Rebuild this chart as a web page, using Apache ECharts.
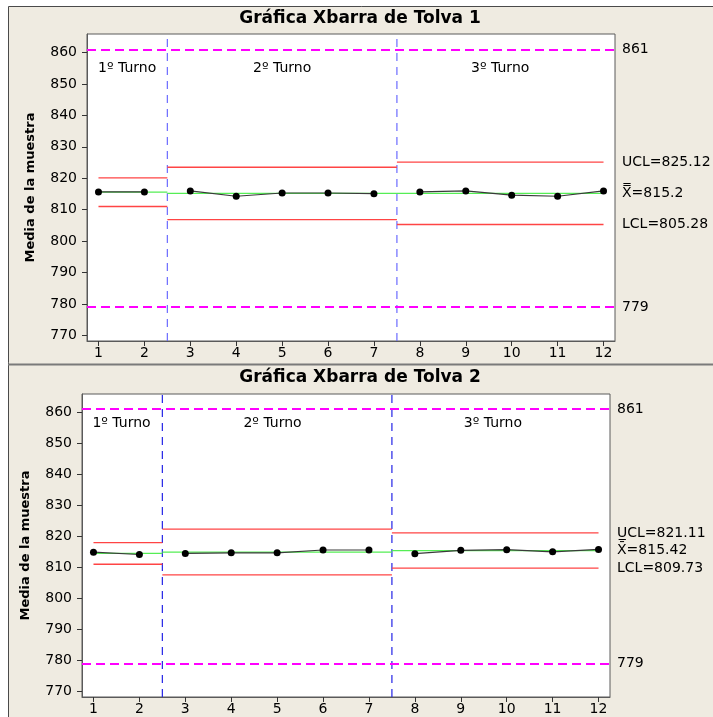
<!DOCTYPE html>
<html><head><meta charset="utf-8">
<script src="https://cdn.jsdelivr.net/npm/echarts@6/dist/echarts.min.js"></script>
<style>html,body{margin:0;padding:0;background:#fff}#c{width:713px;height:717px}</style>
</head><body><div id="c"></div>
<script>
// ---------- data ----------
const samples = [1,2,3,4,5,6,7,8,9,10,11,12];
const xTicks = [1,2,3,4,5,6,7,8,9,10,11,12];
const yTicks = [770,780,790,800,810,820,830,840,850,860];
const stageNames = ['1º Turno','2º Turno','3º Turno'];
const stageOfSample = [0,0,1,1,1,1,1,2,2,2,2,2];
const stageStart = [1, 2.5, 7.5];
const stageEnd = [2.5, 7.5, 12];
const stageDividers = [2.5, 7.5];
const specLimits = [861, 779];
const titles = ['Gráfica Xbarra de Tolva 1', 'Gráfica Xbarra de Tolva 2'];
const yAxisTitle = 'Media de la muestra';

const tolva1Means = [815.64, 815.64, 815.96, 814.26, 815.3, 815.3, 815.1, 815.64, 815.96, 814.6, 814.26, 815.96];
const tolva1UCL = [820.1, 823.5, 825.12];
const tolva1CL  = [815.55, 815.15, 815.2];
const tolva1LCL = [811.0, 806.8, 805.28];
const tolva1LimitLabels = ['UCL=825.12', 'X\u033F=815.2', 'LCL=805.28'];
const tolva1StageLabelX = [1.625, 5.0, 9.75];
const tolva1StageLabelY = 855.1;

const tolva2Means = [814.9, 814.15, 814.5, 814.7, 814.7, 815.6, 815.6, 814.4, 815.5, 815.7, 815.0, 815.8];
const tolva2UCL = [818.0, 822.3, 821.11];
const tolva2CL  = [814.5, 814.9, 815.42];
const tolva2LCL = [811.0, 807.55, 809.73];
const tolva2LimitLabels = ['U\u0332CL=821.11', 'X\u0304=815.42', 'LCL=809.73'];
const tolva2StageLabelX = [1.61, 4.9, 9.7];
const tolva2StageLabelY = 856.4;

// ---------- build ----------
const FONT = '"DejaVu Sans", Verdana, sans-serif';
const Y_MIN = 768.2, Y_MAX = 865.9;
const charts = [
  {means: tolva1Means, ucl: tolva1UCL, cl: tolva1CL, lcl: tolva1LCL, labels: tolva1LimitLabels,
   stX: tolva1StageLabelX, stY: tolva1StageLabelY, divColor: '#6a6aff',
   grid: {left: 87, top: 34, width: 528, height: 307}},
  {means: tolva2Means, ucl: tolva2UCL, cl: tolva2CL, lcl: tolva2LCL, labels: tolva2LimitLabels,
   stX: tolva2StageLabelX, stY: tolva2StageLabelY, divColor: '#2222e6',
   grid: {left: 82, top: 394, width: 528, height: 303}}
];

const grids = [], xAxes = [], yAxes = [], series = [];
charts.forEach((c, k) => {
  grids.push(Object.assign({show: true, backgroundColor: '#ffffff', borderColor: '#5a5a5a', borderWidth: 1}, c.grid));
  xAxes.push({type: 'value', gridIndex: k, min: 0.75, max: 12.25,
    axisLine: {show: true, lineStyle: {color: '#5a5a5a'}},
    axisTick: {show: true, length: 5, customValues: xTicks, lineStyle: {color: '#333'}},
    axisLabel: {customValues: xTicks, color: '#000', fontFamily: FONT, fontSize: 14, margin: 5},
    splitLine: {show: false}});
  yAxes.push({type: 'value', gridIndex: k, min: Y_MIN, max: Y_MAX,
    name: yAxisTitle, nameLocation: 'middle', nameGap: 50,
    nameTextStyle: {fontFamily: FONT, fontWeight: 'bold', fontSize: 13, color: '#000'},
    axisLine: {show: true, lineStyle: {color: '#5a5a5a'}},
    axisTick: {show: true, length: 5, customValues: yTicks, lineStyle: {color: '#333'}},
    axisLabel: {customValues: yTicks, color: '#000', fontFamily: FONT, fontSize: 14, margin: 10},
    splitLine: {show: false}});

  // spec limits
  series.push({type: 'line', xAxisIndex: k, yAxisIndex: k, data: [], silent: true,
    markLine: {symbol: 'none', silent: true, animation: false,
      lineStyle: {color: '#ff00ff', type: [9, 5], width: 2},
      label: {show: true, position: 'end', distance: 7, formatter: p => String(p.value),
        color: '#000', fontFamily: FONT, fontSize: 14},
      data: specLimits.map(v => ({yAxis: v}))}});
  // stage dividers
  stageDividers.forEach(x => {
    series.push({type: 'line', xAxisIndex: k, yAxisIndex: k, showSymbol: false, silent: true,
      color: c.divColor,
      lineStyle: {color: c.divColor, type: [8, 6], width: 1.2},
      data: [[x, Y_MIN], [x, Y_MAX]], z: 3});
  });

  // stage control lines
  for (let s = 0; s < 3; s++) {
    [[c.ucl[s], '#ff4444'], [c.lcl[s], '#ff4444'], [c.cl[s], '#55ee55']].forEach(([v, col]) => {
      series.push({type: 'line', xAxisIndex: k, yAxisIndex: k, showSymbol: false, silent: true,
        lineStyle: {color: col, width: 1.3}, data: [[stageStart[s], v], [stageEnd[s], v]]});
    });
  }
  // points per stage
  for (let s = 0; s < 3; s++) {
    const d = [];
    samples.forEach((x, i) => { if (stageOfSample[i] === s) d.push([x, c.means[i]]); });
    series.push({type: 'line', xAxisIndex: k, yAxisIndex: k, data: d, symbol: 'circle', symbolSize: 7,
      itemStyle: {color: '#000'}, lineStyle: {color: '#3a3a3a', width: 1.2}, z: 5});
  }
  // right-side limit labels
  series.push({type: 'scatter', xAxisIndex: k, yAxisIndex: k, symbolSize: 0, silent: true,
    itemStyle: {opacity: 1},
    data: [[12.25, c.ucl[2]], [12.25, c.cl[2]], [12.25, c.lcl[2]]].map((p, i) => ({value: p,
      label: {formatter: c.labels[i]}})),
    label: {show: true, position: 'right', distance: 7, color: '#000', fontFamily: FONT, fontSize: 14}});
  // stage labels
  series.push({type: 'scatter', xAxisIndex: k, yAxisIndex: k, symbolSize: 0, silent: true,
    itemStyle: {opacity: 1},
    data: c.stX.map((x, i) => ({value: [x, c.stY], label: {formatter: stageNames[i]}})),
    label: {show: true, position: 'inside', color: '#000', fontFamily: FONT, fontSize: 14}});
});

const chart = echarts.init(document.getElementById('c'), null, {renderer: 'canvas'});
chart.setOption({
  animation: false,
  backgroundColor: '#ffffff',
  graphic: [
    {type: 'rect', z: -10, shape: {x: 8.5, y: 6.5, width: 720, height: 720},
      style: {fill: '#efebe1', stroke: '#4a4a4a', lineWidth: 1}},
    {type: 'line', z: -9, shape: {x1: 8, y1: 364.5, x2: 713, y2: 364.5},
      style: {stroke: '#7a7a7a', lineWidth: 2}},
    {type: 'text', x: 360, y: 19, style: {text: titles[0], align: 'center', verticalAlign: 'middle',
      fontFamily: FONT, fontWeight: 'bold', fontSize: 17, fill: '#000'}},
    {type: 'text', x: 360, y: 378, style: {text: titles[1], align: 'center', verticalAlign: 'middle',
      fontFamily: FONT, fontWeight: 'bold', fontSize: 17, fill: '#000'}}
  ],
  grid: grids, xAxis: xAxes, yAxis: yAxes, series: series
});
</script></body></html>
